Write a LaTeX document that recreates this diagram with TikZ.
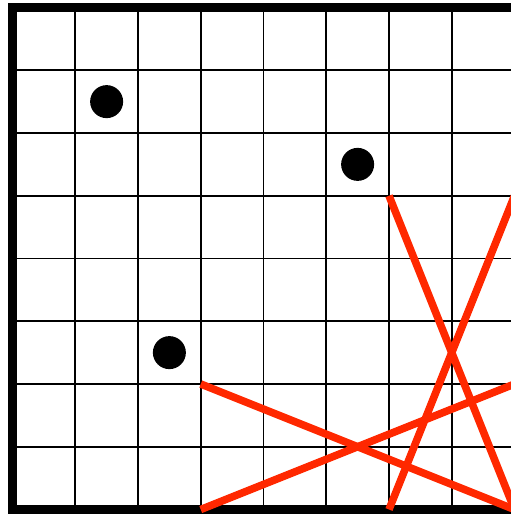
\documentclass[tikz,border=0pt]{standalone}
\begin{document}
\begin{tikzpicture}[x=1pt,y=-1pt,
  gridline/.style={line width=1.8pt,black},
  frame/.style={line width=9pt,black},
  redline/.style={line width=7.6pt,color={rgb,255:red,255;green,40;blue,0}},
  dot/.style={circle,fill=black,minimum size=33pt,inner sep=0pt}]
\useasboundingbox (0,0) rectangle (511,515);
\clip (0,0) rectangle (511,515);
\def\cs{62.75}
\foreach \i in {1,...,7}{
  \draw[gridline] ({12.5+\cs*\i},7.5) -- ({12.5+\cs*\i},509.5);
  \draw[gridline] (12.5,{7.5+\cs*\i}) -- (520,{7.5+\cs*\i});
}
\draw[frame] (520,7.5) -- (12.5,7.5) -- (12.5,509.5) -- (520,509.5);
\node[dot] (d1) at ({12.5+1.5*\cs},{7.5+1.5*\cs}) {};
\node[dot] (d2) at ({12.5+5.5*\cs},{7.5+2.5*\cs}) {};
\node[dot] (d3) at ({12.5+2.5*\cs},{7.5+5.5*\cs}) {};
\coordinate (a36) at ({12.5+3*\cs},{7.5+6*\cs});
\coordinate (a38) at ({12.5+3*\cs},{7.5+8*\cs});
\coordinate (a86) at ({12.5+8*\cs},{7.5+6*\cs});
\coordinate (a88) at ({12.5+8*\cs},{7.5+8*\cs});
\coordinate (a63) at ({12.5+6*\cs},{7.5+3*\cs});
\coordinate (a68) at ({12.5+6*\cs},{7.5+8*\cs});
\coordinate (a83) at ({12.5+8*\cs},{7.5+3*\cs});
\draw[redline] (a36) -- (a88);
\draw[redline] (a38) -- (a86);
\draw[redline] (a63) -- (a88);
\draw[redline] (a68) -- (a83);
\end{tikzpicture}
\end{document}
